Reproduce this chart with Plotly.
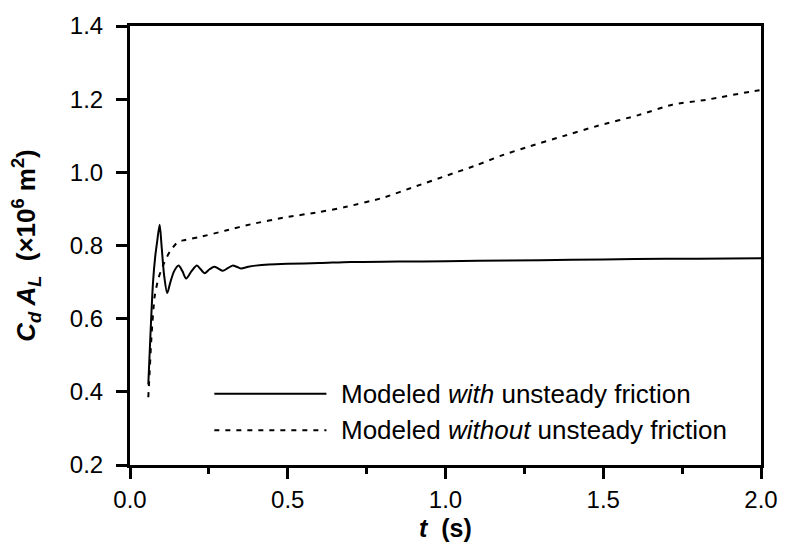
import plotly.graph_objects as go

# Data
t_with = [0.058, 0.065, 0.073, 0.080, 0.086, 0.094, 0.100, 0.108, 0.118, 0.128, 0.140, 0.154,
          0.166, 0.178, 0.195, 0.212, 0.224, 0.236, 0.252, 0.267, 0.280, 0.294, 0.310, 0.325,
          0.338, 0.351, 0.375, 0.398, 0.44, 0.50, 0.60, 0.70, 0.85, 1.0, 1.2, 1.4, 1.6, 1.8, 2.0]
v_with = [0.42, 0.56, 0.70, 0.77, 0.81, 0.857, 0.80, 0.72, 0.67, 0.70, 0.73, 0.745,
          0.73, 0.71, 0.73, 0.745, 0.735, 0.724, 0.735, 0.742, 0.737, 0.731, 0.738, 0.745,
          0.742, 0.737, 0.742, 0.745, 0.748, 0.750, 0.752, 0.755, 0.756, 0.757, 0.759, 0.761, 0.763, 0.764, 0.765]

t_without = [0.058, 0.062, 0.068, 0.078, 0.090, 0.105, 0.126, 0.152, 0.168, 0.22, 0.304, 0.388,
             0.493, 0.597, 0.681, 0.80, 0.90, 1.00, 1.10, 1.174, 1.27, 1.373, 1.478, 1.614,
             1.719, 1.824, 1.97, 2.0]
v_without = [0.385, 0.45, 0.55, 0.66, 0.71, 0.746, 0.783, 0.81, 0.814, 0.823, 0.841, 0.859,
             0.877, 0.891, 0.905, 0.93, 0.96, 0.99, 1.02, 1.045, 1.072, 1.099, 1.126, 1.157,
             1.185, 1.198, 1.221, 1.225]

legend_labels = ["Modeled <i>with</i> unsteady friction",
                 "Modeled <i>without</i> unsteady friction"]

x_ticks = [0.0, 0.5, 1.0, 1.5, 2.0]
y_ticks = [0.2, 0.4, 0.6, 0.8, 1.0, 1.2, 1.4]

x_title = "<b><i>t</i>\u00a0 (s)</b>"
y_title = "<b><i>C<sub>d</sub> A<sub>L</sub></i>\u00a0 (×10<sup>6</sup> m<sup>2</sup>)</b>"

FONT = "Liberation Sans, Arial, sans-serif"

fig = go.Figure()
fig.add_trace(go.Scatter(x=t_with, y=v_with, mode="lines",
                         line=dict(color="black", width=2, shape="spline", smoothing=0.8),
                         showlegend=False))
fig.add_trace(go.Scatter(x=t_without, y=v_without, mode="lines",
                         line=dict(color="black", width=2, dash="5px,6px", shape="spline", smoothing=0.6),
                         showlegend=False))

# custom legend (long line samples)
W, H = 636.0, 443.0
def px_x(p): return (p - 130) / W
def px_y(p): return (465 - p) / H

rows = [(393, "solid"), (430, "5px,6px")]
for (yy, dash), lab in zip(rows, legend_labels):
    fig.add_shape(type="line", xref="paper", yref="paper",
                  x0=px_x(215), x1=px_x(328), y0=px_y(yy), y1=px_y(yy),
                  line=dict(color="black", width=2, dash=dash))
    fig.add_annotation(xref="paper", yref="paper", x=px_x(341), y=px_y(yy),
                       xanchor="left", yanchor="middle", text=lab, showarrow=False,
                       font=dict(family=FONT, size=26, color="black"))

# x-axis title placed as annotation for exact vertical position
fig.add_annotation(xref="paper", yref="paper", x=0.5, y=px_y(529),
                   xanchor="center", yanchor="middle", text=x_title, showarrow=False,
                   font=dict(family=FONT, size=25, color="black"))

axis_common = dict(showline=True, linewidth=3, linecolor="black", mirror=True,
                   ticks="outside", ticklen=11, tickwidth=2.5, tickcolor="black",
                   showgrid=False, zeroline=False,
                   tickfont=dict(family=FONT, size=24, color="black"))

fig.update_xaxes(range=[0, 2.0], tickvals=x_ticks, tickformat=".1f",
                 minor=dict(ticks="outside", ticklen=6, tickwidth=2.5, tickcolor="black",
                            dtick=0.25, showgrid=False),
                 ticklabelstandoff=0,
                 **axis_common)
fig.update_yaxes(range=[0.2, 1.4], tickvals=y_ticks, tickformat=".1f",
                 title=dict(text=y_title, standoff=27, font=dict(family=FONT, size=26, color="black")),
                 ticklabelstandoff=8,
                 **axis_common)

fig.update_layout(width=790, height=553, margin=dict(l=130, r=24, t=22, b=88),
                  plot_bgcolor="white", paper_bgcolor="white",
                  font=dict(family=FONT, color="black"))

fig.write_html("out.html")
